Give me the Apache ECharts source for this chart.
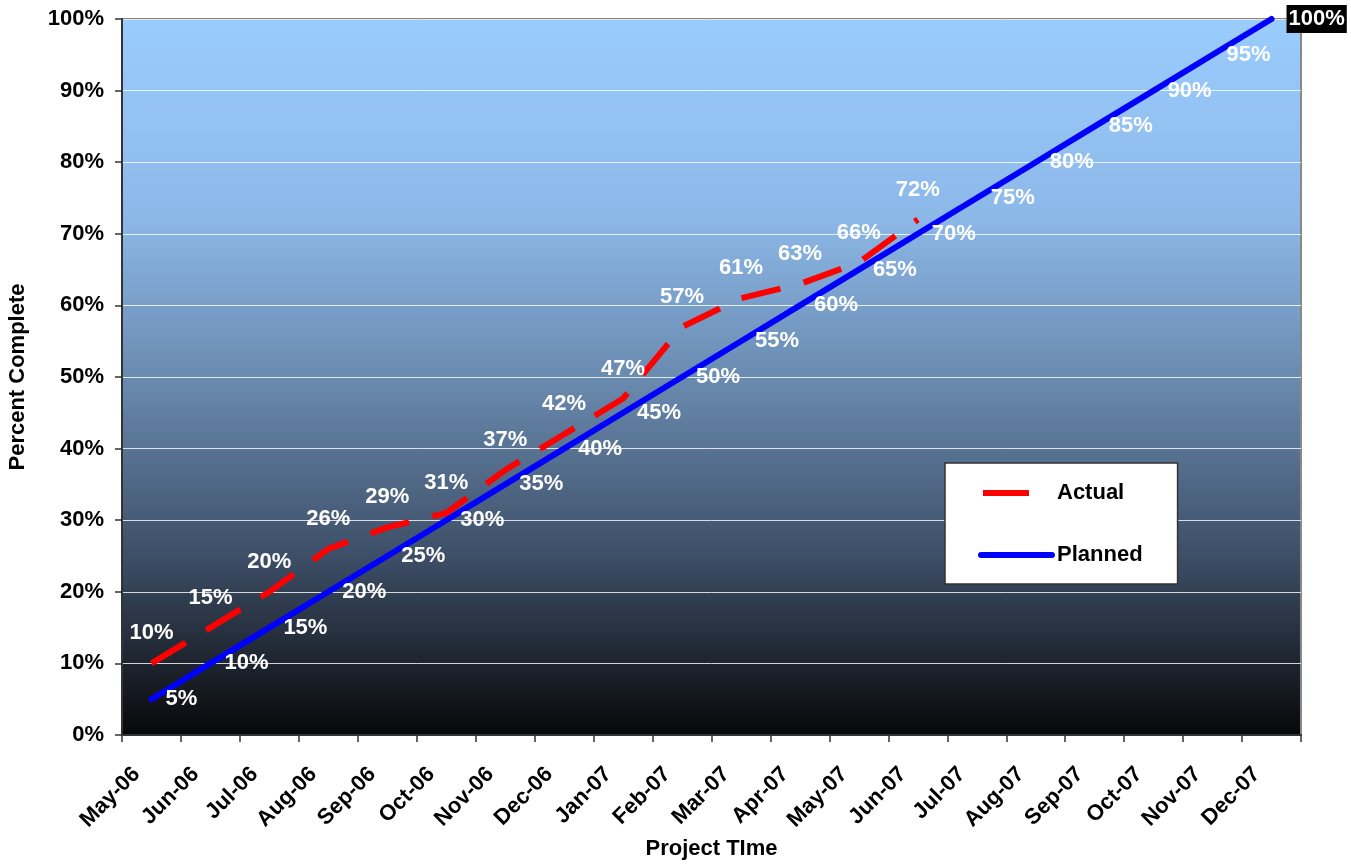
<!DOCTYPE html>
<html>
<head>
<meta charset="utf-8">
<script src="https://cdn.jsdelivr.net/npm/echarts@6/dist/echarts.min.js"></script>
<style>html,body{margin:0;padding:0;background:#fff;}#c{width:1351px;height:865px;}</style>
</head>
<body>
<div id="c"></div>
<script>
var categories = ['May-06','Jun-06','Jul-06','Aug-06','Sep-06','Oct-06','Nov-06','Dec-06','Jan-07','Feb-07','Mar-07','Apr-07','May-07','Jun-07','Jul-07','Aug-07','Sep-07','Oct-07','Nov-07','Dec-07'];
var actual = [10,15,20,26,29,31,37,42,47,57,61,63,66,72];
var planned = [5,10,15,20,25,30,35,40,45,50,55,60,65,70,75,80,85,90,95,100];
var yTicks = [0,10,20,30,40,50,60,70,80,90,100];

var FONT = 'Liberation Sans, Arial, sans-serif';
var chart = echarts.init(document.getElementById('c'), null, {renderer:'canvas'});

var plannedData = planned.map(function(v, i){
  if (i === planned.length - 1) {
    return {value: v, label: {backgroundColor: '#000', padding: [4, 2, 2, 2], distance: 15}};
  }
  return v;
});

chart.setOption({
  animation: false,
  grid: {
    left: 122, right: 50, top: 19, bottom: 130,
    outerBoundsMode: 'none',
    containLabel: false,
    show: true,
    borderColor: '#888', borderWidth: 2,
    backgroundColor: {
      type: 'linear', x: 0, y: 0, x2: 0, y2: 1,
      colorStops: [
        {offset: 0, color: '#9ACCFE'},
        {offset: 0.27, color: '#8DB9E9'},
        {offset: 0.5, color: '#6A8BB0'},
        {offset: 0.74, color: '#3F516A'},
        {offset: 0.96, color: '#111318'},
        {offset: 1, color: '#06070a'}
      ]
    }
  },
  legend: {
    orient: 'vertical',
    left: 945, top: 463,
    width: 230,
    backgroundColor: '#fff',
    borderColor: '#333', borderWidth: 1.5,
    padding: [19, 35, 18, 33],
    itemWidth: 71, itemHeight: 22, itemGap: 40,
    textStyle: {fontFamily: FONT, fontWeight: 'bold', fontSize: 22, color: '#000'},
    itemStyle: {opacity: 0},
    data: [
      {name: 'Actual', lineStyle: {type: [46, 100], dashOffset: 144, width: 6, color: '#FF0000'}},
      {name: 'Planned', lineStyle: {width: 6, color: '#0000FF', cap: 'round'}}
    ]
  },
  xAxis: {
    type: 'category',
    data: categories,
    boundaryGap: true,
    name: 'Project TIme',
    nameLocation: 'middle',
    nameGap: 103,
    nameTextStyle: {fontFamily: FONT, fontWeight: 'bold', fontSize: 22, color: '#000'},
    axisLine: {show: true, lineStyle: {color: '#333', width: 2}},
    axisTick: {show: true, length: 7, lineStyle: {color: '#333', width: 1.5}},
    axisLabel: {rotate: 45, interval: 0, margin: 21, padding: [0, 21, 0, 0], fontFamily: FONT, fontWeight: 'bold', fontSize: 22, color: '#000'},
    splitLine: {show: false}
  },
  yAxis: {
    type: 'value',
    min: 0, max: 100, interval: 10,
    name: 'Percent Complete',
    nameLocation: 'middle',
    nameGap: 93,
    nameTextStyle: {fontFamily: FONT, fontWeight: 'bold', fontSize: 22, color: '#000'},
    axisLine: {show: true, lineStyle: {color: '#333', width: 2}},
    axisTick: {show: true, length: 7, lineStyle: {color: '#333', width: 1.5}},
    axisLabel: {
      margin: 18, fontFamily: FONT, fontWeight: 'bold', fontSize: 22, color: '#000',
      formatter: function(v){ return yTicks.indexOf(v) >= 0 ? v + '%' : ''; }
    },
    splitLine: {show: true, lineStyle: {color: 'rgba(255,255,255,0.8)', width: 1}}
  },
  series: [
    {
      name: 'Actual',
      type: 'line',
      data: actual,
      symbol: 'circle',
      symbolSize: 0,
      showSymbol: true,
      clip: false,
      lineStyle: {color: '#FF0000', width: 6, type: [40, 24]},
      itemStyle: {color: '#FF0000'},
      label: {
        show: true, position: 'top', distance: 19,
        fontFamily: FONT, fontWeight: 'bold', fontSize: 22, color: '#fff',
        formatter: '{c}%'
      },
      z: 3
    },
    {
      name: 'Planned',
      type: 'line',
      data: plannedData,
      symbol: 'circle',
      symbolSize: 0,
      showSymbol: true,
      clip: false,
      lineStyle: {color: '#0000FF', width: 6, cap: 'round'},
      itemStyle: {color: '#0000FF'},
      label: {
        show: true, position: 'right', distance: 14,
        fontFamily: FONT, fontWeight: 'bold', fontSize: 22, color: '#fff',
        formatter: '{c}%'
      },
      z: 4
    }
  ]
});
</script>
</body>
</html>
